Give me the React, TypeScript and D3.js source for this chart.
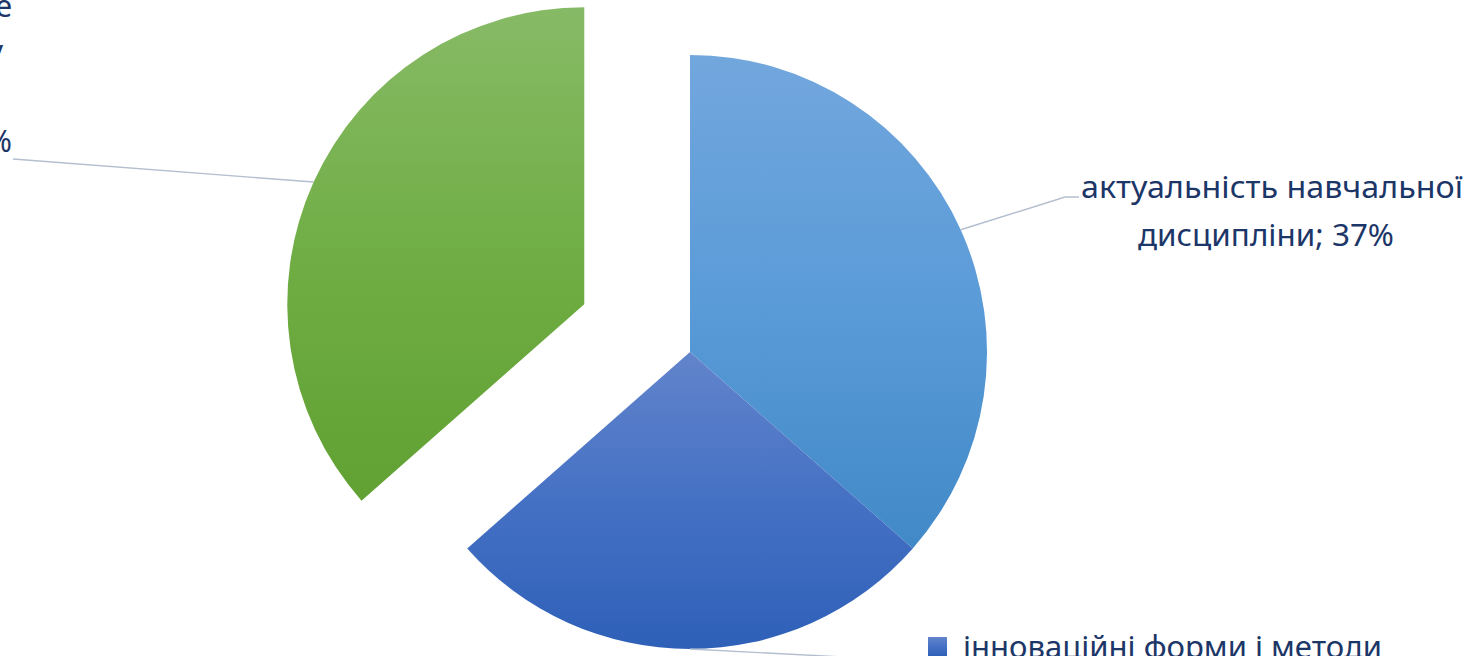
import React from "react";
import * as d3 from "d3";

// ---- data ----
const categories = [
  "актуальність навчальної дисципліни",
  "інноваційні форми і методи навчання",
  "особистісне ставлення викладача у навчальному процесі",
];
const values = [36.5, 27, 36.5];
const colorStops = [
  ["#72A7DD", "#5A9BD8", "#4189C7"],
  ["#6284CB", "#4571C4", "#2E60B8"],
  ["#87BA66", "#70AE45", "#61A032"],
];
const explode = [0, 0, 116];

// label text lines (wrapping as in the picture)
const labelLines = [
  ["актуальність навчальної", "дисципліни; {p}"],
  ["інноваційні форми і методи", "навчання; {p}"],
  ["особистісне", "ставлення викладача у", "навчальному", "процесі; {p}"],
];

const W = 1473;
const H = 656;
const cx = 690;
const cy = 352;
const R = 297;
const TEXT = "#1C3668";
const LEADER = "#B3BECE";
const FONT = "'Noto Sans', 'Open Sans', sans-serif";
const FS = 30;

export default function App() {
  const total = d3.sum(values);
  const pie = d3.pie<number>().sort(null).value((d) => d)(values);
  const arc = d3.arc<d3.PieArcDatum<number>>().innerRadius(0).outerRadius(R);
  const pct = (v: number) => `${Math.round((v / total) * 100)}%`;

  const slices = pie.map((p, i) => {
    const mid = (p.startAngle + p.endAngle) / 2;
    const dx = Math.sin(mid) * explode[i];
    const dy = -Math.cos(mid) * explode[i];
    const ox = cx + dx + Math.sin(mid) * R;
    const oy = cy + dy - Math.cos(mid) * R;
    return { p, i, mid, dx, dy, ox, oy };
  });

  const lines = (i: number) =>
    labelLines[i].map((l) => l.replace("{p}", pct(values[i])));

  const s0 = slices[0];
  const s1 = slices[1];
  const s2 = slices[2];

  return (
    <div style={{ margin: 0, padding: 0 }}>
      <style>{`body{margin:0;padding:0;overflow:hidden;background:#fff}`}</style>
      <svg width={W} height={H} style={{ display: "block" }} fontFamily={FONT}>
        <defs>
          {colorStops.map((c, i) => (
            <linearGradient key={i} id={`g${i}`} x1="0" y1="0" x2="0" y2="1">
              <stop offset="0" stopColor={c[0]} />
              <stop offset="0.5" stopColor={c[1]} />
              <stop offset="1" stopColor={c[2]} />
            </linearGradient>
          ))}
        </defs>
        <rect width={W} height={H} fill="#fff" />

        {slices.map((s) => (
          <path
            key={s.i}
            d={arc(s.p) || ""}
            transform={`translate(${cx + s.dx},${cy + s.dy})`}
            fill={`url(#g${s.i})`}
          />
        ))}

        {/* leader lines */}
        <polyline
          points={`${s0.ox},${s0.oy} 1065,197 1079,197`}
          fill="none"
          stroke={LEADER}
          strokeWidth={1.4}
        />
        <polyline
          points={`${s1.ox},${s1.oy} 920,661`}
          fill="none"
          stroke={LEADER}
          strokeWidth={1.4}
        />
        <polyline
          points={`${s2.ox},${s2.oy} 13,159`}
          fill="none"
          stroke={LEADER}
          strokeWidth={1.4}
        />

        {/* label: slice 0 */}
        <text x={1081} y={198} fill={TEXT} fontSize={FS} textLength={382} lengthAdjust="spacingAndGlyphs">
          {lines(0)[0]}
        </text>
        <text x={1138} y={246} fill={TEXT} fontSize={FS} textLength={256} lengthAdjust="spacingAndGlyphs">
          {lines(0)[1]}
        </text>

        {/* label: slice 1 with legend key */}
        <rect x={928} y={637} width={19} height={19} fill="url(#g1)" />
        <text x={963} y={658} fill={TEXT} fontSize={FS} textLength={419} lengthAdjust="spacingAndGlyphs">
          {lines(1)[0]}
        </text>
        <text x={1100} y={704} fill={TEXT} fontSize={FS}>
          {lines(1)[1]}
        </text>

        {/* label: slice 2 (mostly off the left edge) */}
        {lines(2).map((t, k) => (
          <text
            key={k}
            x={[12, 3, -14, 12][k]}
            y={17 + k * 45}
            fill={TEXT}
            fontSize={FS}
            textAnchor="end"
          >
            {t}
          </text>
        ))}
      </svg>
    </div>
  );
}
